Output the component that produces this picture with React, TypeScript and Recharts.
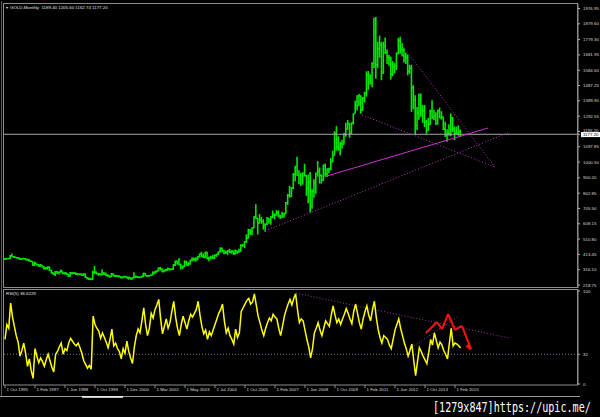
import React from 'react';
import { ComposedChart, Bar, Line, XAxis, YAxis, ReferenceLine } from 'recharts';

// GOLD monthly bars, Oct 1995 .. Jun 2015 (feed has a few doubled months in 2000-2005)
const barHigh = [
  387, 389, 390,
  407, 417, 401, 397, 394, 391, 387, 390, 388, 385, 384, 373,
  368, 365, 356, 350, 350, 346, 336, 331, 337, 334, 315, 297,
  306, 306, 302, 315, 303, 297, 297, 289, 300, 300, 300, 297,
  293, 290, 291, 292, 291, 268, 264, 262, 308, 338, 303, 294,
  292, 316, 300, 297, 287, 278, 293, 291, 281, 280, 279, 274, 272, 276,
  273, 270, 268, 265, 298, 277, 274, 272, 277, 295, 293, 279, 281,
  284, 303, 305, 310, 328, 332, 324, 316, 320, 327, 325, 323, 349,
  372, 375, 389, 353, 341, 374, 371, 365, 378, 392, 391, 394, 400, 417,
  428, 418, 429, 428, 398, 402, 409, 411, 415, 430, 455, 456,
  440, 436, 438, 447, 437, 437, 443, 436, 447, 474, 478, 497, 540,
  574, 573, 584, 654, 730, 644, 668, 650, 635, 610, 650, 641,
  656, 690, 673, 693, 690, 664, 683, 678, 745, 796, 848, 840,
  929, 975, 1033, 946, 930, 933, 988, 917, 920, 935, 825, 889,
  933, 1005, 964, 920, 983, 990, 960, 963, 1025, 1070, 1195, 1227,
  1162, 1128, 1140, 1182, 1249, 1266, 1246, 1251, 1308, 1388, 1424, 1432,
  1424, 1412, 1446, 1576, 1577, 1557, 1633, 1917, 1921, 1765, 1803, 1763,
  1764, 1791, 1714, 1679, 1669, 1641, 1630, 1695, 1788, 1796, 1755, 1723,
  1694, 1683, 1617, 1617, 1488, 1424, 1348, 1434, 1434, 1361, 1362, 1267,
  1280, 1332, 1392, 1331, 1315, 1332, 1345, 1322, 1287, 1255, 1208, 1239,
  1307, 1284, 1224, 1224, 1232, 1205.6,
];
const barLow = [
  381, 383, 384,
  386, 397, 393, 390, 389, 380, 380, 385, 378, 377, 370, 366,
  342, 341, 346, 337, 337, 334, 318, 318, 318, 309, 292, 284,
  278, 290, 287, 299, 289, 287, 286, 272, 274, 288, 290, 285,
  283, 284, 278, 278, 267, 256, 252, 251, 253, 289, 287, 279,
  282, 282, 284, 276, 274, 268, 271, 275, 270, 271, 269, 263, 264, 267,
  262, 255, 256, 254, 263, 266, 265, 263, 265, 270, 276, 271, 273,
  276, 281, 288, 299, 307, 313, 301, 302, 306, 311, 313, 314, 316,
  342, 350, 344, 320, 321, 335, 343, 340, 350, 370, 372, 369, 377, 395,
  398, 392, 390, 383, 372, 383, 386, 384, 399, 411, 427, 428,
  416, 418, 412, 425, 420, 414, 414, 418, 425, 432, 463, 456, 488,
  516, 538, 537, 582, 640, 543, 612, 610, 573, 560, 601, 610,
  604, 646, 637, 662, 650, 641, 647, 648, 672, 730, 776, 780,
  831, 880, 916, 862, 850, 859, 910, 786, 740, 681, 705, 775,
  801, 910, 866, 866, 883, 909, 908, 932, 950, 1001, 1043, 1076,
  1074, 1045, 1088, 1113, 1164, 1208, 1157, 1181, 1241, 1313, 1330, 1359,
  1309, 1327, 1381, 1418, 1462, 1496, 1478, 1600, 1532, 1600, 1666, 1523,
  1564, 1689, 1626, 1615, 1527, 1549, 1565, 1588, 1687, 1691, 1673, 1635,
  1626, 1554, 1563, 1321, 1338, 1180, 1207, 1271, 1290, 1251, 1225, 1182,
  1202, 1238, 1277, 1268, 1240, 1240, 1281, 1272, 1206, 1161, 1131, 1170,
  1167, 1191, 1142, 1178, 1170, 1162.74,
];
const barClose = [
  383, 387, 387,
  405, 400, 396, 392, 391, 382, 385, 387, 379, 379, 371, 369,
  345, 363, 349, 340, 345, 334, 326, 325, 332, 311, 296, 290,
  303, 297, 301, 309, 293, 296, 288, 273, 294, 292, 294, 288,
  287, 287, 279, 286, 268, 261, 255, 255, 299, 299, 292, 290,
  283, 293, 287, 279, 275, 272, 289, 277, 278, 274, 273, 264, 270, 273,
  265, 267, 258, 264, 267, 271, 268, 266, 273, 293, 279, 275, 279,
  282, 297, 302, 308, 327, 318, 304, 312, 316, 323, 317, 318, 347,
  368, 358, 347, 334, 337, 364, 346, 354, 375, 385, 380, 386, 398, 416,
  402, 396, 427, 388, 393, 395, 391, 408, 415, 429, 452, 438,
  422, 426, 434, 428, 435, 417, 437, 429, 433, 473, 470, 495, 517,
  569, 556, 582, 654, 643, 613, 633, 623, 599, 604, 646, 632,
  650, 665, 662, 678, 659, 650, 665, 672, 743, 789, 783, 834,
  923, 972, 916, 865, 885, 928, 913, 833, 871, 718, 816, 869,
  928, 942, 916, 884, 979, 927, 955, 955, 1001, 1040, 1182, 1096,
  1081, 1118, 1113, 1180, 1212, 1244, 1181, 1248, 1307, 1359, 1386, 1421,
  1332, 1410, 1439, 1556, 1536, 1500, 1628, 1828, 1620, 1722, 1746, 1564,
  1737, 1697, 1669, 1664, 1560, 1604, 1614, 1692, 1773, 1719, 1714, 1675,
  1663, 1578, 1595, 1472, 1393, 1234, 1313, 1395, 1327, 1323, 1253, 1202,
  1240, 1326, 1284, 1295, 1245, 1327, 1282, 1287, 1210, 1171, 1183, 1184,
  1283, 1212, 1183, 1183, 1190, 1177.2,
];

// RSI(5) per bar
const rsiValues = [
  48, 64, 60, 87, 72, 62, 52, 45, 30, 36, 44, 33,
  19, 27, 14, 6, 38, 30, 23, 28, 24, 19, 26, 32,
  25, 18, 13, 32, 35, 40, 44, 32, 38, 36, 44, 49,
  46, 43, 41, 44, 39, 33, 25, 21, 17, 20, 16, 73,
  64, 60, 57, 49, 55, 50, 45, 39, 48, 59, 41, 44,
  38, 35, 27, 38, 33, 46, 35, 28, 22, 40, 52, 59,
  55, 68, 82, 64, 52, 60, 76, 71, 80, 85, 91, 70,
  54, 62, 70, 60, 66, 78, 89, 72, 60, 52, 64, 73,
  66, 59, 68, 75, 72, 76, 80, 89, 74, 62, 54, 58,
  48, 56, 52, 58, 64, 70, 76, 80, 86, 68, 55, 60,
  52, 48, 43, 59, 50, 55, 78, 82, 86, 90, 92, 86,
  88, 97, 85, 73, 66, 58, 52, 60, 66, 71, 68, 75,
  72, 70, 60, 52, 62, 73, 80, 86, 91, 85, 92, 97,
  80, 66, 70, 68, 58, 48, 40, 28, 38, 55, 60, 66,
  58, 52, 60, 68, 65, 62, 74, 84, 74, 66, 70, 64,
  70, 75, 81, 76, 70, 65, 78, 86, 76, 66, 59, 70,
  78, 84, 74, 68, 80, 89, 72, 59, 50, 44, 52, 50,
  48, 42, 38, 48, 58, 64, 70, 60, 52, 44, 38, 30,
  36, 43, 25, 9, 24, 39, 35, 30, 26, 22, 34, 48,
  42, 55, 47, 39, 45, 42, 36, 32, 27, 44, 60, 41,
  44, 43, 41, 38.6,
];

const dateLabels = [
  '1 Oct 1995', '1 Feb 1997', '1 Jun 1998', '1 Oct 1999', '1 Dec 2000', '1 Mar 2002',
  '1 May 2003', '1 Jul 2004', '1 Oct 2005', '1 Feb 2007', '1 Jun 2008', '1 Oct 2009',
  '1 Feb 2011', '1 Jun 2012', '1 Oct 2013', '1 Feb 2015',
];
const priceTicks = [
  218.75, 316.1, 413.45, 510.8, 608.15, 705.5, 802.85, 900.2, 1000.5, 1097.85,
  1195.2, 1292.55, 1389.9, 1487.25, 1584.6, 1681.95, 1779.3, 1879.6, 1976.95,
];
const rsiTicks = [0, 32, 100];
const lastPrice = 1177.2;
const rsiLast = '38.6229';
const titleText = 'GOLD,Monthly  1189.40 1205.60 1162.74 1177.20';

// trend lines drawn on the chart, in [bar index, value] pairs
const priceTrends = [
  { from: [211.7, 1745], to: [261.3, 969], dotted: true },
  { from: [190.4, 1300], to: [261.3, 969], dotted: true },
  { from: [171.7, 912], to: [257.6, 1217], dotted: false },
  { from: [138.7, 562], to: [269.3, 1192], dotted: true },
];
const rsiTrends = [
  { from: [155.2, 97.8], to: [268.8, 49.5] },
  { from: [215.5, 37.6], to: [242.1, 73.1] },
];
const redPath = [
  [224.5, 54.8], [230.4, 66.7], [233.1, 59.1], [236.3, 75.3],
  [240.0, 58.1], [243.7, 62.4], [248.5, 37.6],
];

const bars = barHigh.map((h, i) => ({
  idx: i,
  range: [barLow[i], h],
  open: i > 0 ? barClose[i - 1] : barClose[0],
  close: barClose[i],
  rsi: rsiValues[i],
}));

const X_DOMAIN: [number, number] = [-0.53, 305.6];
const FONT = 'Liberation Sans, Arial, sans-serif';
const BAR_GREEN = '#00e800';

function OhlcBar(props: any) {
  const { x, y, width, height, payload } = props;
  if (x == null || y == null || !payload) return null;
  const top = Math.min(y, y + height);
  const h = Math.abs(height);
  const [lo, hi] = payload.range;
  const at = (v: number) => {
    const c = Math.min(hi, Math.max(lo, v));
    return top + ((hi - c) / (hi - lo || 1)) * h;
  };
  const cx = x + width / 2;
  return (
    <g stroke={BAR_GREEN}>
      <line x1={cx} x2={cx} y1={top - 0.3} y2={top + Math.max(h, 1) + 0.3} strokeWidth={1.6} />
      <line x1={cx - 1.4} x2={cx} y1={at(payload.open)} y2={at(payload.open)} strokeWidth={1.1} />
      <line x1={cx} x2={cx + 1.4} y1={at(payload.close)} y2={at(payload.close)} strokeWidth={1.1} />
    </g>
  );
}

function PriceTick(props: any) {
  const { x, y, payload } = props;
  const v = payload.value;
  if (v === lastPrice) {
    return (
      <g>
        <rect x={x - 1} y={y - 2.2} width={21} height={5} fill="#ffffff" />
        <text x={x + 1} y={y + 1.8} fontSize={4.4} fill="#000" fontFamily={FONT}>
          {v.toFixed(2)}
        </text>
      </g>
    );
  }
  const lift = v === 1195.2 ? -1 : 0;
  return (
    <text x={x + 1} y={y + 1.6 + lift} fontSize={4.4} fill="#d8d8d8" fontFamily={FONT}>
      {v.toFixed(2)}
    </text>
  );
}

function RsiTick(props: any) {
  const { x, y, payload } = props;
  return (
    <text x={x + 1} y={y + 1.6} fontSize={4.4} fill="#d8d8d8" fontFamily={FONT}>
      {payload.value}
    </text>
  );
}

function DateTick(props: any) {
  const { x, y, payload } = props;
  const label = dateLabels[Math.round(payload.value / 16)];
  return (
    <g>
      <line x1={x} x2={x} y1={y} y2={y + 3} stroke="#b0b0b0" strokeWidth={0.8} />
      <text x={x + 1.5} y={y + 6} fontSize={4.4} fill="#d8d8d8" fontFamily={FONT}>
        {label}
      </text>
    </g>
  );
}

export default function App() {
  const dateTicks = dateLabels.map((_, k) => k * 16);
  return (
    <div style={{ position: 'absolute', left: 0, top: 0, width: 600, height: 417, background: '#000', overflow: 'hidden' }}>
      {/* price pane */}
      <div style={{ position: 'absolute', left: 0, top: 0 }}>
        <ComposedChart width={600} height={292} data={bars} margin={{ top: 4, right: 0, bottom: 4, left: 4 }}>
          <XAxis dataKey="idx" type="number" domain={X_DOMAIN} hide allowDataOverflow />
          <YAxis
            orientation="right"
            width={22}
            type="number"
            domain={[199.7, 2005.6]}
            ticks={[...priceTicks, lastPrice]}
            interval={0}
            allowDataOverflow
            axisLine={{ stroke: '#909090' }}
            tickLine={{ stroke: '#b0b0b0' }}
            tickSize={2}
            tick={<PriceTick />}
          />
          <ReferenceLine y={lastPrice} stroke="#a8a8a8" strokeWidth={1} />
          <Bar dataKey="range" barSize={1} shape={<OhlcBar />} isAnimationActive={false} />
          {priceTrends.map((t, k) => (
            <ReferenceLine
              key={k}
              segment={[{ x: t.from[0], y: t.from[1] }, { x: t.to[0], y: t.to[1] }]}
              stroke={t.dotted ? '#b83cb8' : '#cc33cc'}
              strokeWidth={1}
              strokeDasharray={t.dotted ? '1 2' : undefined}
              ifOverflow="visible"
            />
          ))}
        </ComposedChart>
      </div>

      {/* RSI pane */}
      <div style={{ position: 'absolute', left: 0, top: 286 }}>
        <ComposedChart width={600} height={111} data={bars} margin={{ top: 3, right: 0, bottom: 0, left: 4 }}>
          <XAxis
            dataKey="idx"
            type="number"
            domain={X_DOMAIN}
            ticks={dateTicks}
            interval={0}
            height={12}
            axisLine={false}
            tickLine={false}
            tickSize={0}
            tickMargin={0}
            allowDataOverflow
            tick={<DateTick />}
          />
          <YAxis
            orientation="right"
            width={22}
            type="number"
            domain={[-1.1, 102.2]}
            ticks={rsiTicks}
            interval={0}
            allowDataOverflow
            axisLine={{ stroke: '#909090' }}
            tickLine={{ stroke: '#b0b0b0' }}
            tickSize={2}
            tick={<RsiTick />}
          />
          <ReferenceLine y={32} stroke="#7878a0" strokeDasharray="1 2" />
          {rsiTrends.map((t, k) => (
            <ReferenceLine
              key={k}
              segment={[{ x: t.from[0], y: t.from[1] }, { x: t.to[0], y: t.to[1] }]}
              stroke="#9a3aa8"
              strokeDasharray="1 2"
              ifOverflow="visible"
            />
          ))}
          <Line dataKey="rsi" type="linear" stroke="#ffff00" strokeWidth={1.5} dot={false} isAnimationActive={false} />
          {redPath.slice(1).map((p, k) => (
            <ReferenceLine
              key={'r' + k}
              segment={[{ x: redPath[k][0], y: redPath[k][1] }, { x: p[0], y: p[1] }]}
              stroke="#ff1010"
              strokeWidth={2}
              ifOverflow="visible"
            />
          ))}
          <ReferenceLine
            segment={[{ x: 246.2, y: 41.6 }, { x: 248.5, y: 37.6 }]}
            stroke="#ff1010"
            strokeWidth={3}
            ifOverflow="visible"
          />
        </ComposedChart>
      </div>

      {/* window frame and labels */}
      <svg width={600} height={417} style={{ position: 'absolute', left: 0, top: 0, pointerEvents: 'none' }}>
        <g fill="none" stroke="#8c8c8c" strokeWidth={1}>
          <rect x={3.5} y={3.5} width={574} height={284} />
          <rect x={3.5} y={289.5} width={574} height={95.5} />
          <line x1={1.5} x2={1.5} y1={1} y2={396} stroke="#5a5a5a" />
          <line x1={0} x2={580} y1={396.5} y2={396.5} stroke="#9a9a9a" />
        </g>
        <line x1={82} x2={123} y1={397} y2={397} stroke="#ffffff" strokeWidth={1.5} />
        <text x={6} y={8.5} fontSize={4.4} fill="#e0e0e0" fontFamily={FONT}>▾</text>
        <text x={10} y={8.5} fontSize={4.4} fill="#e0e0e0" fontFamily={FONT} xmlSpace="preserve">
          {titleText}
        </text>
        <text x={6} y={294.5} fontSize={4.4} fill="#e0e0e0" fontFamily={FONT}>
          {'RSI(5) ' + rsiLast}
        </text>
      </svg>

      <div
        style={{
          position: 'absolute',
          left: 433,
          top: 399,
          color: '#ffffff',
          fontFamily: 'DejaVu Sans Mono, monospace',
          fontSize: 14,
          lineHeight: '17px',
          whiteSpace: 'nowrap',
          transform: 'scaleX(0.72)',
          transformOrigin: 'left top',
        }}
      >
        [1279x847]https://upic.me/
      </div>
    </div>
  );
}
